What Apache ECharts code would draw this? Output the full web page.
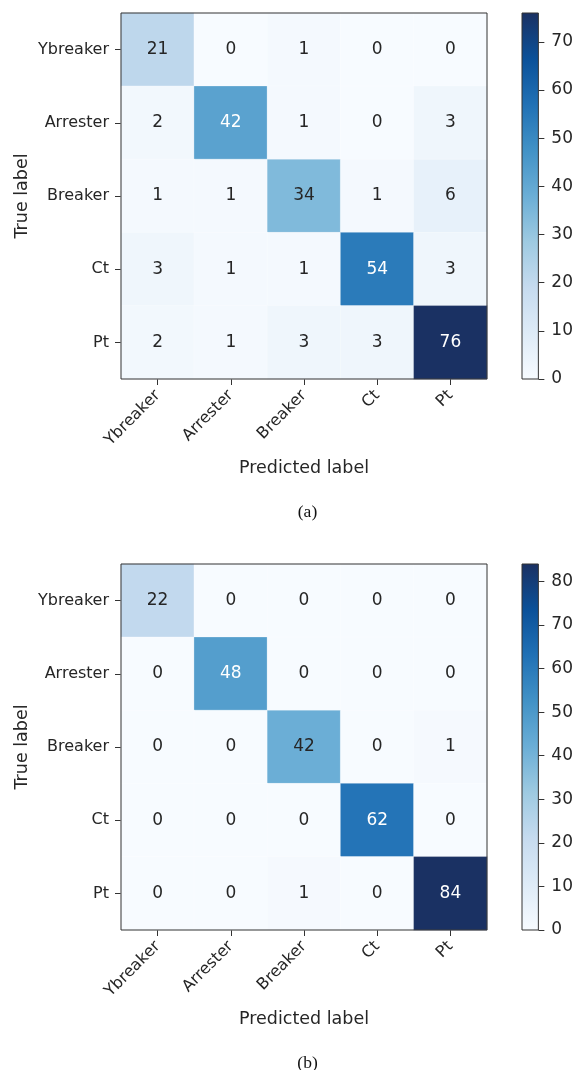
<!DOCTYPE html>
<html>
<head>
<meta charset="utf-8">
<script src="https://cdn.jsdelivr.net/npm/echarts@6/dist/echarts.min.js"></script>
<style>
  html, body { margin: 0; padding: 0; background: #fff; }
  #chart { width: 576px; height: 1070px; }
</style>
</head>
<body>
<div id="chart"></div>
<script>
// Class names (rows = true label, columns = predicted label)
const classes = ['Ybreaker', 'Arrester', 'Breaker', 'Ct', 'Pt'];

// Confusion matrix (a)
const matrixA = [
  [21, 0, 1, 0, 0],
  [2, 42, 1, 0, 3],
  [1, 1, 34, 1, 6],
  [3, 1, 1, 54, 3],
  [2, 1, 3, 3, 76]
];

// Confusion matrix (b)
const matrixB = [
  [22, 0, 0, 0, 0],
  [0, 48, 0, 0, 0],
  [0, 0, 42, 0, 1],
  [0, 0, 0, 62, 0],
  [0, 0, 1, 0, 84]
];

// Colorbar ticks
const ticksA = [0, 10, 20, 30, 40, 50, 60, 70];
const ticksB = [0, 10, 20, 30, 40, 50, 60, 70, 80];

const subLabels = ['(a)', '(b)'];

// "Blues"-style sequential colormap
const BLUES = ['#f7fbff', '#deebf7', '#c6dbef', '#9ecae1', '#6baed6',
               '#4292c6', '#2171b5', '#0b5199', '#1a3163'];

const TEXT = '#262626';
const FRAME = '#333333';
const FONT = 'DejaVu Sans';

function maxOf(m) { return Math.max.apply(null, m.flat()); }

function cells(m) {
  const thresh = maxOf(m) / 2;
  const out = [];
  m.forEach((row, r) => row.forEach((v, c) => {
    out.push({ value: [c, r, v], label: { color: v > thresh ? '#ffffff' : TEXT } });
  }));
  return out;
}

function gradient() {
  return {
    type: 'linear', x: 0, y: 1, x2: 0, y2: 0,
    colorStops: BLUES.map((c, i) => ({ offset: i / (BLUES.length - 1), color: c }))
  };
}

const panels = [
  { m: matrixA, ticks: ticksA, top: 13 },
  { m: matrixB, ticks: ticksB, top: 564 }
];

const grid = [], xAxis = [], yAxis = [], series = [], visualMap = [], graphic = [];

panels.forEach((p, k) => {
  const mx = maxOf(p.m);
  const gi = k * 2;       // heatmap grid
  const ci = k * 2 + 1;   // colorbar grid

  grid.push({ left: 121, top: p.top, width: 366, height: 366, show: true,
              borderColor: FRAME, borderWidth: 1, backgroundColor: 'transparent', z: 5 });
  grid.push({ left: 522, top: p.top, width: 19, height: 366, show: true,
              borderColor: FRAME, borderWidth: 1, backgroundColor: 'transparent', z: 5 });

  xAxis.push({
    type: 'category', gridIndex: gi, data: classes,
    name: 'Predicted label', nameLocation: 'middle', nameGap: 80, nameMoveOverlap: false,
    nameTextStyle: { fontSize: 17.5, color: TEXT, fontFamily: FONT },
    axisLine: { show: false },
    axisTick: { show: true, alignWithLabel: true, length: 6, lineStyle: { color: FRAME } },
    axisLabel: { rotate: 45, fontSize: 16, color: TEXT, fontFamily: FONT, margin: 14 },
    splitLine: { show: false }, splitArea: { show: false }
  });
  yAxis.push({
    type: 'category', gridIndex: gi, data: classes, inverse: true,
    name: 'True label', nameLocation: 'middle', nameGap: 90, nameRotate: 90,
    nameMoveOverlap: false,
    nameTextStyle: { fontSize: 17.5, color: TEXT, fontFamily: FONT },
    axisLine: { show: false },
    axisTick: { show: true, alignWithLabel: true, length: 6, lineStyle: { color: FRAME } },
    axisLabel: { fontSize: 16, color: TEXT, fontFamily: FONT, margin: 12 },
    splitLine: { show: false }, splitArea: { show: false }
  });

  xAxis.push({
    type: 'category', gridIndex: ci, data: [''],
    axisLine: { show: false }, axisTick: { show: false }, axisLabel: { show: false }
  });
  yAxis.push({
    type: 'value', gridIndex: ci, min: 0, max: mx, position: 'right',
    axisLine: { show: false },
    axisTick: { show: true, length: 6, lineStyle: { color: FRAME }, customValues: p.ticks },
    axisLabel: { fontSize: 17, color: TEXT, fontFamily: FONT, margin: 13, customValues: p.ticks },
    splitLine: { show: false }
  });

  series.push({
    type: 'heatmap', xAxisIndex: gi, yAxisIndex: gi, data: cells(p.m),
    itemStyle: { borderColor: 'rgba(255,255,255,0.35)', borderWidth: 0.8 },
    label: { show: true, fontSize: 17, fontFamily: FONT },
    emphasis: { disabled: true }
  });
  visualMap.push({
    type: 'continuous', show: false, seriesIndex: series.length - 1,
    min: 0, max: mx, dimension: 2, inRange: { color: BLUES }
  });
  series.push({
    type: 'bar', xAxisIndex: ci, yAxisIndex: ci, data: [mx],
    barWidth: '100%', itemStyle: { color: gradient() }, silent: true
  });

  graphic.push({
    type: 'text', x: 307.5, y: p.top + 499,
    style: { text: subLabels[k], font: '17.5px "Liberation Serif"', fill: '#111',
             align: 'center', verticalAlign: 'middle' }
  });
});

const chart = echarts.init(document.getElementById('chart'), null, { renderer: 'canvas' });
chart.setOption({
  animation: false,
  backgroundColor: '#ffffff',
  grid, xAxis, yAxis, series, visualMap, graphic
});
</script>
</body>
</html>
